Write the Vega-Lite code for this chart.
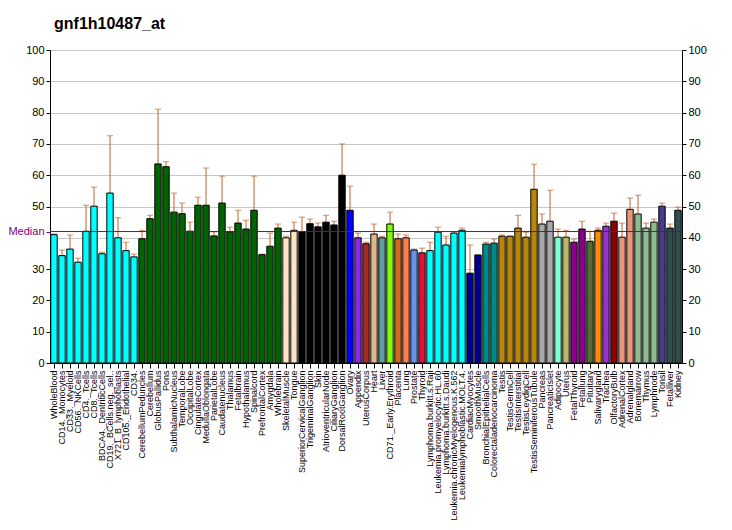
{
  "$schema": "https://vega.github.io/schema/vega-lite/v6.json",
  "autosize": "none",
  "width": 632,
  "height": 313,
  "padding": {"left": 50, "top": 50, "right": 50, "bottom": 167},
  "background": "white",
  "title": {"text": "gnf1h10487_at", "anchor": "start", "frame": "group", "fontSize": 16, "fontWeight": "bold", "font": "Liberation Sans", "color": "black", "dx": 4, "dy": 24, "offset": 23, "baseline": "alphabetic"},
  "config": {
    "font": "Liberation Sans",
    "view": {"stroke": null},
    "axis": {"labelFont": "Liberation Sans", "labelColor": "black", "domainColor": "black", "tickColor": "black"}
  },
  "data": {"values": [
    {"tissue": "WholeBlood", "group": "Blood", "value": 41.0, "err": 41.2},
    {"tissue": "CD14._Monocytes", "group": "Blood", "value": 34.3, "err": 36.1},
    {"tissue": "CD33._Myeloid", "group": "Blood", "value": 36.4, "err": 40.9},
    {"tissue": "CD56._NKCells", "group": "Blood", "value": 32.2, "err": 33.5},
    {"tissue": "CD4._Tcells", "group": "Blood", "value": 42.1, "err": 50.4},
    {"tissue": "CD8._Tcells", "group": "Blood", "value": 50.1, "err": 56.2},
    {"tissue": "BDCA4._DentriticCells", "group": "Blood", "value": 34.9, "err": 35.4},
    {"tissue": "CD19._BCells.neg._sel..", "group": "Blood", "value": 54.3, "err": 72.6},
    {"tissue": "X721_B_lymphoblasts", "group": "Blood", "value": 40.0, "err": 46.4},
    {"tissue": "CD105._Endothelial", "group": "Blood", "value": 35.9, "err": 38.6},
    {"tissue": "CD34.", "group": "Blood", "value": 33.9, "err": 34.8},
    {"tissue": "CerebellumPeduncles", "group": "Brain", "value": 39.7, "err": 42.4},
    {"tissue": "Cerebellum", "group": "Brain", "value": 46.1, "err": 47.2},
    {"tissue": "GlobusPallidus", "group": "Brain", "value": 63.6, "err": 81.1},
    {"tissue": "Pons", "group": "Brain", "value": 62.7, "err": 64.3},
    {"tissue": "SubthalamicNucleus", "group": "Brain", "value": 48.2, "err": 54.3},
    {"tissue": "TemporalLobe", "group": "Brain", "value": 47.7, "err": 51.1},
    {"tissue": "OccipitalLobe", "group": "Brain", "value": 42.1, "err": 45.0},
    {"tissue": "CingulateCortex", "group": "Brain", "value": 50.4, "err": 53.0},
    {"tissue": "MedullaOblongata", "group": "Brain", "value": 50.4, "err": 62.3},
    {"tissue": "ParietalLobe", "group": "Brain", "value": 40.6, "err": 41.9},
    {"tissue": "Caudatenucleus", "group": "Brain", "value": 51.1, "err": 59.7},
    {"tissue": "Thalamus", "group": "Brain", "value": 41.9, "err": 43.4},
    {"tissue": "Fetalbrain", "group": "Brain", "value": 44.7, "err": 48.8},
    {"tissue": "Hypothalamus", "group": "Brain", "value": 42.8, "err": 45.6},
    {"tissue": "Spinalcord", "group": "Brain", "value": 48.8, "err": 59.7},
    {"tissue": "PrefrontalCortex", "group": "Brain", "value": 34.6, "err": 34.8},
    {"tissue": "Amygdala", "group": "Brain", "value": 37.3, "err": 41.5},
    {"tissue": "Wholebrain", "group": "Brain", "value": 43.1, "err": 44.4},
    {"tissue": "SkeletalMuscle", "group": "Muscle", "value": 40.0, "err": 40.5},
    {"tissue": "Tongue", "group": "Muscle", "value": 42.4, "err": 45.0},
    {"tissue": "SuperiorCervicalGanglion", "group": "Ganglia", "value": 42.0, "err": 46.6},
    {"tissue": "TrigeminalGanglion", "group": "Ganglia", "value": 44.5, "err": 46.0},
    {"tissue": "Skin", "group": "Ganglia", "value": 43.5, "err": 44.7},
    {"tissue": "AtrioventricularNode", "group": "Ganglia", "value": 45.0, "err": 47.2},
    {"tissue": "CiliaryGanglion", "group": "Ganglia", "value": 44.1, "err": 45.3},
    {"tissue": "DorsalRootGanglion", "group": "Ganglia", "value": 60.0, "err": 70.0},
    {"tissue": "Ovary", "group": "Ovary", "value": 48.8, "err": 56.5},
    {"tissue": "Appendix", "group": "Appendix", "value": 40.0, "err": 41.5},
    {"tissue": "UterusCorpus", "group": "UterusCorpus", "value": 38.1, "err": 38.6},
    {"tissue": "Heart", "group": "Heart", "value": 41.2, "err": 44.4},
    {"tissue": "Liver", "group": "Liver", "value": 40.0, "err": 40.5},
    {"tissue": "CD71._Early.Erythroid", "group": "Erythroid", "value": 44.4, "err": 48.2},
    {"tissue": "Placenta", "group": "Placenta", "value": 39.7, "err": 41.2},
    {"tissue": "Lung", "group": "Lung", "value": 40.0, "err": 40.9},
    {"tissue": "Prostate", "group": "Prostate", "value": 36.1, "err": 36.4},
    {"tissue": "Thyroid", "group": "Thyroid", "value": 35.2, "err": 36.7},
    {"tissue": "Lymphoma.burkitt.s.Raji", "group": "CancerLines", "value": 35.9, "err": 38.6},
    {"tissue": "Leukemia.promyelocytic.HL.60", "group": "CancerLines", "value": 41.8, "err": 43.4},
    {"tissue": "Lymphoma.burkitt.s.Daudi", "group": "CancerLines", "value": 37.7, "err": 40.5},
    {"tissue": "Leukemia.chronicMyelogenous.K.562", "group": "CancerLines", "value": 41.5, "err": 41.9},
    {"tissue": "Leukemialymphoblastic.MOLT.4.", "group": "CancerLines", "value": 42.4, "err": 43.1},
    {"tissue": "CardiacMyocytes", "group": "CellsDark", "value": 28.7, "err": 37.7},
    {"tissue": "SmoothMuscle", "group": "CellsDark", "value": 34.5, "err": 34.5},
    {"tissue": "BronchialEpithelialCells", "group": "Epithelial", "value": 38.0, "err": 38.6},
    {"tissue": "Colorectaladenocarcinoma", "group": "Epithelial", "value": 38.3, "err": 39.6},
    {"tissue": "Testis", "group": "Testis", "value": 40.5, "err": 40.9},
    {"tissue": "TestisGermCell", "group": "Testis", "value": 40.5, "err": 40.5},
    {"tissue": "TestisInterstitial", "group": "Testis", "value": 43.1, "err": 47.2},
    {"tissue": "TestisLeydigCell", "group": "Testis", "value": 40.2, "err": 41.8},
    {"tissue": "TestisSeminiferousTubule", "group": "Testis", "value": 55.5, "err": 63.5},
    {"tissue": "Pancreas", "group": "Pancreas", "value": 44.4, "err": 47.6},
    {"tissue": "PancreaticIslet", "group": "Pancreas", "value": 45.3, "err": 55.2},
    {"tissue": "Adipocyte", "group": "Adipocyte", "value": 40.2, "err": 42.8},
    {"tissue": "Uterus", "group": "Uterus", "value": 40.2, "err": 42.4},
    {"tissue": "FetalThyroid", "group": "Fetal", "value": 38.6, "err": 39.6},
    {"tissue": "Fetallung", "group": "Fetal", "value": 42.8, "err": 45.3},
    {"tissue": "Pituitary", "group": "Pituitary", "value": 38.9, "err": 42.1},
    {"tissue": "Salivarygland", "group": "Salivary", "value": 42.4, "err": 43.1},
    {"tissue": "Trachea", "group": "Trachea", "value": 43.7, "err": 44.7},
    {"tissue": "OlfactoryBulb", "group": "Olfactory", "value": 45.3, "err": 47.9},
    {"tissue": "AdrenalCortex", "group": "Adrenal", "value": 40.2, "err": 44.7},
    {"tissue": "Adrenalgland", "group": "Adrenal", "value": 49.1, "err": 52.7},
    {"tissue": "Bonemarrow", "group": "Lymphoid", "value": 47.6, "err": 53.6},
    {"tissue": "Thymus", "group": "Lymphoid", "value": 43.1, "err": 44.7},
    {"tissue": "Lymphnode", "group": "Lymphoid", "value": 45.0, "err": 46.0},
    {"tissue": "Tonsil", "group": "Tonsil", "value": 50.1, "err": 51.1},
    {"tissue": "Fetalliver", "group": "LiverKidney", "value": 43.1, "err": 44.4},
    {"tissue": "Kidney", "group": "LiverKidney", "value": 48.8, "err": 49.8}
  ]},
  "resolve": {"axis": {"y": "independent"}},
  "layer": [
    {
      "mark": {"type": "rule", "color": "#C0622A", "strokeWidth": 1},
      "encoding": {
        "x": {"field": "tissue", "type": "nominal", "sort": null, "scale": {"paddingInner": 0.2, "paddingOuter": 0.1},
              "axis": {"title": null, "labelAngle": -90, "labelAlign": "right", "labelBaseline": "middle", "labelFontSize": 9, "labelPadding": 2, "tickSize": 5, "labelOverlap": false, "labelLimit": 300, "domainColor": "black"}},
        "y": {"field": "value", "type": "quantitative", "scale": {"domain": [0, 100], "nice": false},
              "axis": {"orient": "right", "title": null, "values": [0, 10, 20, 30, 40, 50, 60, 70, 80, 90, 100], "grid": true, "gridColor": "#C8C8C8", "gridWidth": 1, "tickSize": 4, "labelFontSize": 11, "labelPadding": 2}},
        "y2": {"field": "err"}
      }
    },
    {
      "mark": {"type": "tick", "color": "#C0622A", "size": 6, "thickness": 1},
      "encoding": {
        "x": {"field": "tissue", "type": "nominal", "sort": null},
        "y": {"field": "err", "type": "quantitative", "axis": null}
      }
    },
    {
      "mark": {"type": "bar", "stroke": "black", "strokeWidth": 1},
      "encoding": {
        "x": {"field": "tissue", "type": "nominal", "sort": null},
        "y": {"field": "value", "type": "quantitative",
              "axis": {"orient": "left", "title": null, "values": [0, 10, 20, 30, 42, 50, 60, 70, 80, 90, 100], "grid": false, "tickSize": 4, "labelFontSize": 11, "labelPadding": 2,
                       "labelExpr": "datum.value === 42 ? 'Median' : datum.label",
                       "labelColor": {"condition": {"test": "datum.value === 42", "value": "#800080"}, "value": "black"},
                       "tickColor": {"condition": {"test": "datum.value === 42", "value": "#800080"}, "value": "black"}}},
        "color": {"field": "group", "type": "nominal", "legend": null,
                  "scale": {"domain": ["Blood", "Brain", "Muscle", "Ganglia", "Ovary", "Appendix", "UterusCorpus", "Heart", "Liver", "Erythroid", "Placenta", "Lung", "Prostate", "Thyroid", "CancerLines", "CellsDark", "Epithelial", "Testis", "Pancreas", "Adipocyte", "Uterus", "Fetal", "Pituitary", "Salivary", "Trachea", "Olfactory", "Adrenal", "Lymphoid", "Tonsil", "LiverKidney"],
                            "range": ["#00FFFF", "#006400", "#FFE4C4", "#000000", "#0000FF", "#8A2BE2", "#A52A2A", "#DEB887", "#5F9EA0", "#7FFF00", "#D2691E", "#FF7F50", "#6495ED", "#DC143C", "#00FFFF", "#00008B", "#008B8B", "#B8860B", "#A9A9A9", "#7FFFD4", "#BDB76B", "#8B008B", "#556B2F", "#FF8C00", "#9932CC", "#8B0000", "#E9967A", "#8FBC8F", "#483D8B", "#2F4F4F"]}}
      }
    },
    {
      "data": {"values": [{"median": 42}]},
      "mark": {"type": "rule", "color": "#800080", "strokeWidth": 1},
      "encoding": {
        "y": {"field": "median", "type": "quantitative", "axis": null}
      }
    }
  ]
}
